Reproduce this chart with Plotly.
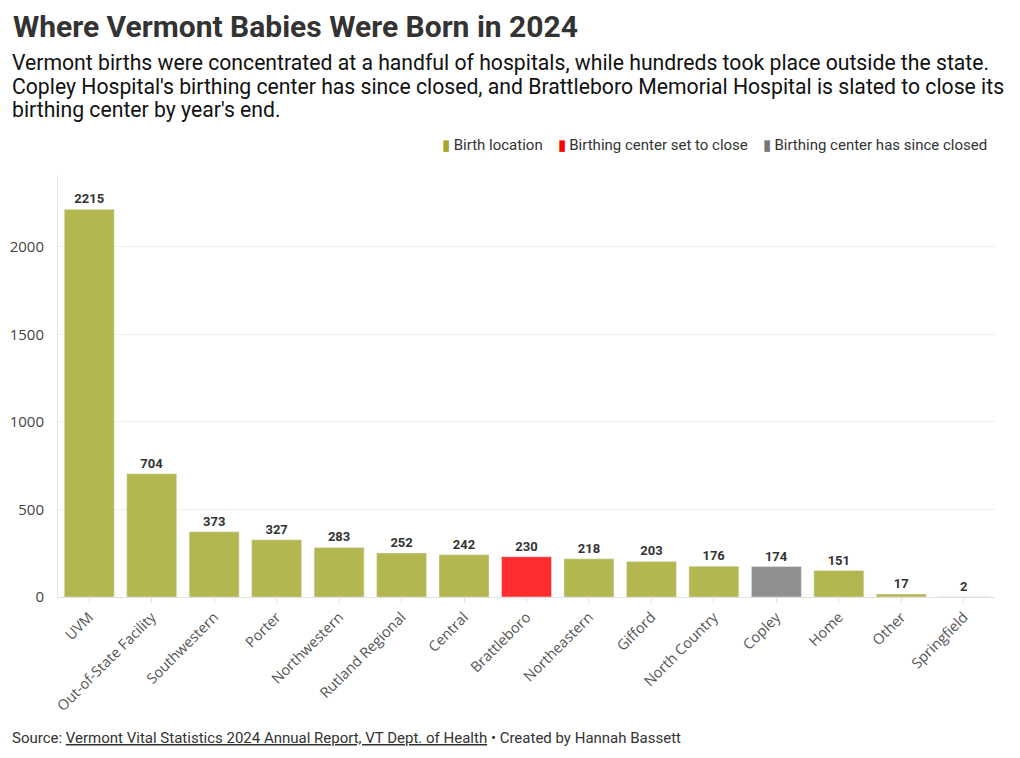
import plotly.graph_objects as go

# Vermont births by location, 2024
locations = ["UVM", "Out-of-State Facility", "Southwestern", "Porter", "Northwestern",
             "Rutland Regional", "Central", "Brattleboro", "Northeastern", "Gifford",
             "North Country", "Copley", "Home", "Other", "Springfield"]
births = [2215, 704, 373, 327, 283, 252, 242, 230, 218, 203, 176, 174, 151, 17, 2]
status = ["open", "open", "open", "open", "open", "open", "open", "closing", "open", "open",
          "open", "closed", "open", "open", "open"]

groups = [
    ("open", "Birth location", "#a4a82a"),
    ("closing", "Birthing center set to close", "#ff0000"),
    ("closed", "Birthing center has since closed", "#777777"),
]

subtitle = [
    "Vermont births were concentrated at a handful of hospitals, while hundreds took place outside the state.",
    "Copley Hospital's birthing center has since closed, and Brattleboro Memorial Hospital is slated to close its",
    "birthing center by year's end.",
]

fig = go.Figure()
for key, label, col in groups:
    xs = [l for l, s in zip(locations, status) if s == key]
    ys = [b for b, s in zip(births, status) if s == key]
    fig.add_trace(go.Bar(
        x=xs, y=ys, name=label, marker_color=col, marker_opacity=0.82,
        text=ys, texttemplate="<b>%{text}</b>", textposition="outside",
        textfont=dict(family="Roboto", size=13, color="#333333"),
        cliponaxis=False, showlegend=False,
    ))

# page has an 8px body margin; positions below are page pixels
OFF = 8
W, H = 1020 - 2 * OFF, 758 - 2 * OFF
L, R, T, B = 58, 995, 175, 597
def px(x):
    return (x - L) / (R - L)
def py(y):
    return (B - y) / (B - T)

fig.update_layout(
    width=W, height=H,
    margin=dict(l=L - OFF, r=W - (R - OFF), t=T - OFF, b=H - (B - OFF)),
    paper_bgcolor="white", plot_bgcolor="white",
    barmode="overlay", bargap=0.2,
    font=dict(family="Roboto", color="#333333"),
)

fig.update_xaxes(
    categoryorder="array", categoryarray=locations, automargin=False,
    tickangle=-45, tickfont=dict(family="Open Sans", size=14.5, color="#555555"),
    ticks="outside", ticklen=5, tickcolor="#e0e0e0",
    showline=True, linecolor="#e0e0e0", showgrid=False,
)
fig.update_yaxes(
    range=[0, 2411], tickvals=[0, 500, 1000, 1500, 2000], automargin=False,
    tickfont=dict(family="Open Sans", size=15, color="#444444"),
    showgrid=True, gridcolor="#efefef", zeroline=False,
    showline=True, linecolor="#e6e6e6", ticks="", ticklabelstandoff=10,
)

# legend drawn as a single line of text with coloured swatches
legend_text = "&nbsp;&nbsp;&nbsp;&nbsp;".join(
    f"<span style='color:{col}'>▮</span>&nbsp;{label}" for _, label, col in groups)
fig.add_annotation(
    xref="paper", yref="paper", x=px(989), y=py(145), xanchor="right", yanchor="middle",
    showarrow=False, text=legend_text,
    font=dict(family="Roboto", size=15, color="#333333"),
)

fig.add_annotation(
    xref="paper", yref="paper", x=px(11), y=py(26), xanchor="left", yanchor="middle",
    text="<b>Where Vermont Babies Were Born in 2024</b>", showarrow=False,
    font=dict(family="Roboto", size=30, color="#333333"),
)
for i, line in enumerate(subtitle):
    fig.add_annotation(
        xref="paper", yref="paper", x=px(10), y=py(63 + 23 * i), xanchor="left", yanchor="middle",
        showarrow=False, text=line,
        font=dict(family="Roboto", size=21.2, color="#111111"),
    )
fig.add_annotation(
    xref="paper", yref="paper", x=px(10), y=py(738), xanchor="left", yanchor="middle",
    showarrow=False,
    text=("Source: <span style='text-decoration:underline'>Vermont Vital Statistics 2024 Annual Report, "
          "VT Dept. of Health</span> • Created by Hannah Bassett"),
    font=dict(family="Roboto", size=15, color="#333333"),
)

fig.write_html("out.html")
